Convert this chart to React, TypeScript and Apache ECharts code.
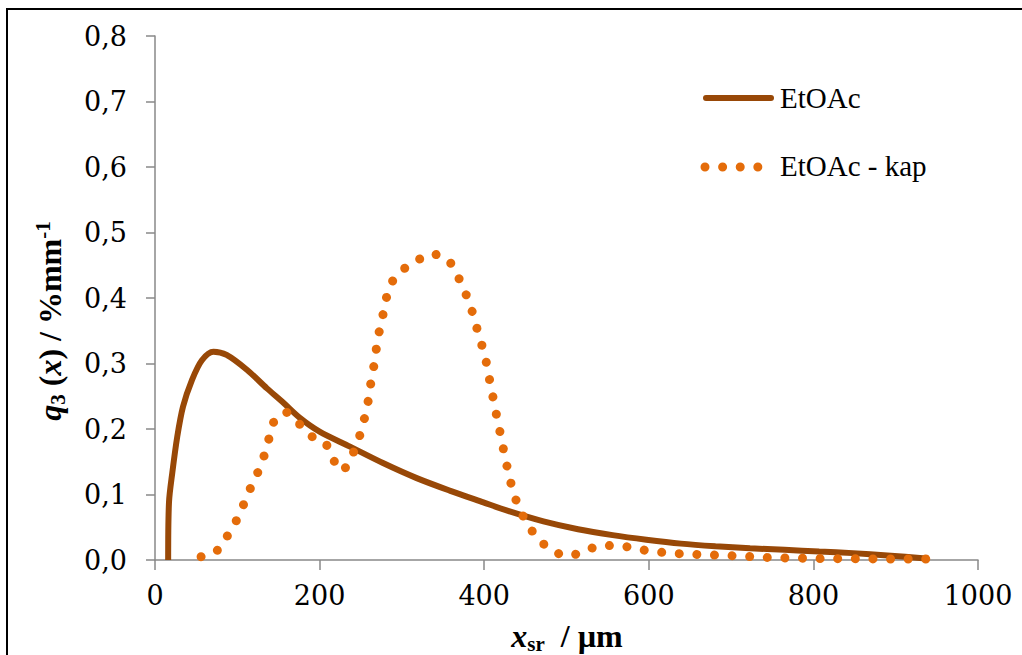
import React, { useEffect, useRef } from "react";
import * as echarts from "echarts";

// EtOAc (solid)
const etoacSize = [16, 17, 21, 27, 34, 45, 57, 71, 87, 112, 136, 156, 176, 200, 237, 277, 318, 358, 399, 429, 472, 514, 556, 597, 639, 681, 723, 765, 807, 848, 890, 940];
const etoacQ3 = [0, 0.088, 0.133, 0.188, 0.234, 0.275, 0.305, 0.318, 0.313, 0.29, 0.262, 0.24, 0.217, 0.196, 0.173, 0.148, 0.125, 0.106, 0.088, 0.075, 0.059, 0.047, 0.038, 0.031, 0.025, 0.021, 0.018, 0.0155, 0.013, 0.0105, 0.007, 0.002];

// EtOAc - kap (dotted)
const kapSize = [56, 75, 87, 98, 107, 115, 124, 132, 138, 143, 158, 173, 187, 206, 215, 227, 239, 247, 253, 258, 261, 265, 268, 271, 276, 280, 286, 298, 316, 335, 354, 366, 375, 383, 389, 395, 401, 405, 409, 413, 417, 421, 425, 430, 435, 443, 453, 466, 482, 502, 522, 543, 563, 585, 606, 627, 648, 670, 691, 712, 733, 754, 775, 797, 818, 840, 861, 882, 903, 925, 947];
const kapQ3 = [0.005, 0.014, 0.035, 0.058, 0.083, 0.107, 0.131, 0.157, 0.183, 0.208, 0.226, 0.211, 0.191, 0.18, 0.157, 0.136, 0.159, 0.183, 0.209, 0.235, 0.261, 0.289, 0.314, 0.34, 0.368, 0.394, 0.42, 0.44, 0.455, 0.467, 0.461, 0.438, 0.414, 0.389, 0.363, 0.337, 0.311, 0.285, 0.259, 0.234, 0.208, 0.185, 0.158, 0.131, 0.105, 0.078, 0.054, 0.032, 0.015, 0.006, 0.014, 0.022, 0.022, 0.017, 0.013, 0.0105, 0.009, 0.008, 0.007, 0.006, 0.0045, 0.0035, 0.003, 0.0025, 0.002, 0.002, 0.0018, 0.0016, 0.0015, 0.0015, 0.0015];

const seriesNames = ["EtOAc", "EtOAc - kap"];
const xRange = [0, 1000, 200];
const yRange = [0, 0.8, 0.1];

const SOLID = "#984807";
const DOT = "#E46C0A";
const AXIS = "#898989";
const DOT_DASH = [0.01, 17.6];

const tickFont = "DejaVu Serif";
const textFont = "Liberation Serif";

const titleRich = {
  i: { fontFamily: textFont, fontWeight: "bold", fontStyle: "italic", fontSize: 32, lineHeight: 36, fill: "#000" },
  b: { fontFamily: textFont, fontWeight: "bold", fontSize: 32, lineHeight: 36, fill: "#000" },
  sub: { fontFamily: textFont, fontWeight: "bold", fontSize: 21, lineHeight: 18, verticalAlign: "bottom", fill: "#000" },
  sup: { fontFamily: textFont, fontWeight: "bold", fontSize: 21, lineHeight: 18, verticalAlign: "top", fill: "#000" },
};

export default function App() {
  const ref = useRef<HTMLDivElement>(null);
  useEffect(() => {
    if (!ref.current) return;
    const chart = echarts.init(ref.current, undefined, { renderer: "svg" });
    const fmtY = (v: number) => v.toFixed(1).replace(".", ",");
    const fmtX = (v: number) => String(v);
    chart.setOption({
      animation: false,
      backgroundColor: "#fff",
      grid: { left: 155, right: 44, top: 36, bottom: 95, containLabel: false, outerBoundsMode: "none" },
      xAxis: {
        type: "value",
        min: xRange[0],
        max: xRange[1],
        interval: xRange[2],
        axisLine: { show: true, lineStyle: { color: AXIS, width: 1.5 } },
        axisTick: { show: true, length: 10, lineStyle: { color: AXIS, width: 1.5 } },
        splitLine: { show: false },
        axisLabel: { color: "#000", fontFamily: tickFont, fontSize: 27, margin: 22, formatter: fmtX },
      },
      yAxis: {
        type: "value",
        min: yRange[0],
        max: yRange[1],
        interval: yRange[2],
        axisLine: { show: true, lineStyle: { color: AXIS, width: 1.5 } },
        axisTick: { show: true, length: 9, lineStyle: { color: AXIS, width: 1.5 } },
        splitLine: { show: false },
        axisLabel: { color: "#000", fontFamily: tickFont, fontSize: 27, margin: 28, formatter: fmtY },
      },
      series: [
        {
          name: seriesNames[0],
          type: "line",
          data: etoacSize.map((x, i) => [x, etoacQ3[i]]),
          smooth: 0.3,
          symbol: "none",
          lineStyle: { color: SOLID, width: 6 },
          z: 2,
        },
        {
          name: seriesNames[1],
          type: "line",
          data: kapSize.map((x, i) => [x, kapQ3[i]]),
          smooth: 0.3,
          symbol: "none",
          lineStyle: { color: DOT, width: 9, type: DOT_DASH, cap: "round" },
          z: 3,
        },
      ],
      graphic: [
        {
          type: "rect",
          shape: { x: 7, y: 9, width: 1040, height: 700 },
          style: { fill: "none", stroke: "#000", lineWidth: 2 },
          silent: true,
        },
        {
          type: "line",
          shape: { x1: 706, y1: 98, x2: 771, y2: 98 },
          style: { stroke: SOLID, lineWidth: 6, lineCap: "round" },
        },
        {
          type: "text",
          x: 780,
          y: 98,
          style: { text: seriesNames[0], fontFamily: textFont, fontSize: 29, fill: "#000", align: "left", verticalAlign: "middle" },
        },
        {
          type: "line",
          shape: { x1: 705, y1: 167, x2: 760, y2: 167 },
          style: { stroke: DOT, lineWidth: 9, lineCap: "round", lineDash: DOT_DASH },
        },
        {
          type: "text",
          x: 780,
          y: 166,
          style: { text: seriesNames[1], fontFamily: textFont, fontSize: 29, fill: "#000", align: "left", verticalAlign: "middle" },
        },
        {
          type: "text",
          x: 567,
          y: 636,
          style: {
            text: "{i|x}{sub|sr}{b|  / µm}",
            rich: titleRich,
            align: "center",
            verticalAlign: "middle",
          },
        },
        {
          type: "text",
          x: 50,
          y: 321,
          rotation: Math.PI / 2,
          style: {
            text: "{i|q}{sub|3}{b| (}{i|x}{b|) / %mm}{sup|-1}",
            rich: titleRich,
            align: "center",
            verticalAlign: "middle",
          },
        },
      ],
    });
    return () => chart.dispose();
  }, []);
  return <div ref={ref} style={{ position: "fixed", left: 0, top: 0, width: 1022, height: 655 }} />;
}
